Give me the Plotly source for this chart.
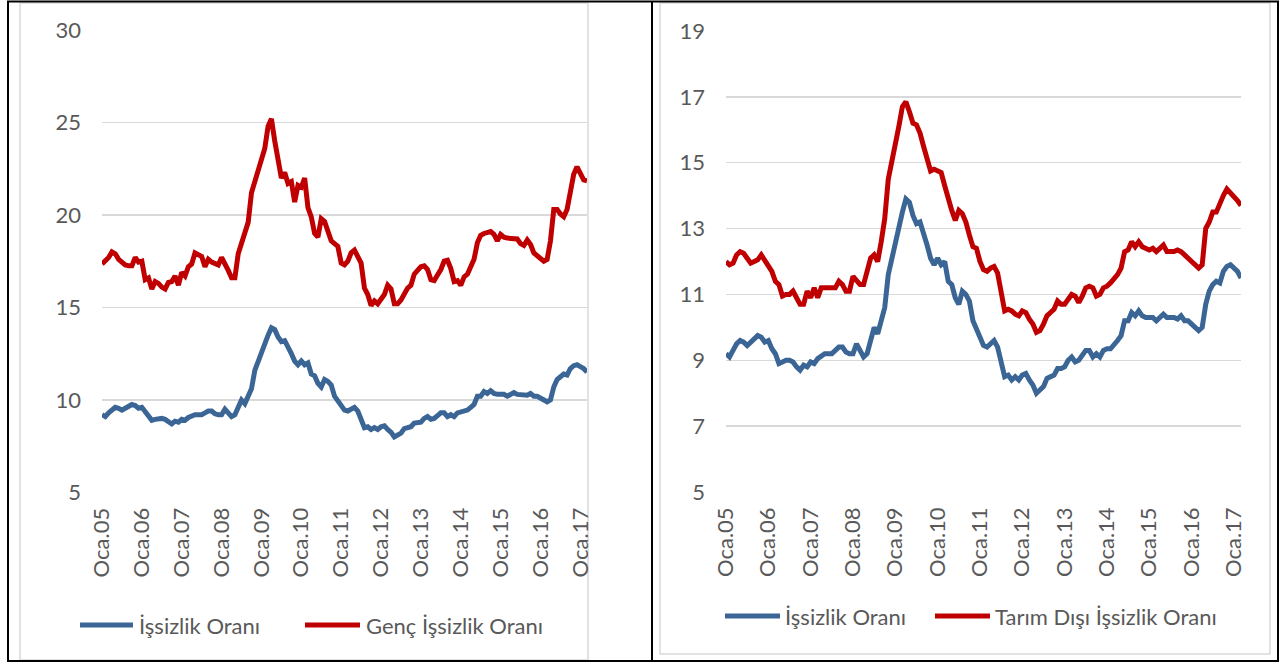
import plotly.graph_objects as go

# ---------------- data (monthly, Oca.05 .. Mar.17) ----------------
tick_labels = ["Oca.05", "Oca.06", "Oca.07", "Oca.08", "Oca.09", "Oca.10", "Oca.11",
               "Oca.12", "Oca.13", "Oca.14", "Oca.15", "Oca.16", "Oca.17"]

issizlik = [
    9.2, 9.1, 9.3, 9.5, 9.6, 9.55, 9.45, 9.55, 9.65, 9.75, 9.7, 9.55,
    9.6, 9.35, 9.2, 8.9, 8.95, 9.0, 9.0, 8.95, 8.8, 8.7, 8.85, 8.8,
    8.95, 8.9, 9.05, 9.15, 9.2, 9.2, 9.2, 9.3, 9.4, 9.4, 9.25, 9.2,
    9.2, 9.5, 9.3, 9.1, 9.2, 9.6, 10.0, 9.8, 10.2, 10.6, 11.6, 12.1,
    12.6, 13.1, 13.5, 13.9, 13.8, 13.4, 13.15, 13.2, 12.9, 12.5, 12.1, 11.9,
    12.1, 11.9, 12.0, 11.4, 11.3, 10.9, 10.7, 11.1, 11.0, 10.8, 10.2, 9.95,
    9.7, 9.45, 9.4, 9.5, 9.6, 9.4, 8.9, 8.5, 8.55, 8.4, 8.5, 8.4,
    8.55, 8.6, 8.4, 8.25, 8.0, 8.1, 8.2, 8.45, 8.5, 8.55, 8.75, 8.75,
    8.8, 9.0, 9.1, 8.95, 9.0, 9.15, 9.3, 9.3, 9.1, 9.2, 9.1, 9.3,
    9.35, 9.35, 9.45, 9.6, 9.75, 10.2, 10.2, 10.45, 10.35, 10.5, 10.35, 10.3,
    10.3, 10.3, 10.2, 10.3, 10.4, 10.3, 10.3, 10.3, 10.25, 10.35, 10.2, 10.2,
    10.1, 10.0, 9.9, 10.0, 10.7, 11.1, 11.3, 11.4, 11.35, 11.7, 11.85, 11.9,
    11.8, 11.7, 11.5,
]

genc_issizlik = [
    17.35, 17.5, 17.7, 18.0, 17.9, 17.6, 17.4, 17.3, 17.25, 17.25, 17.7, 17.45,
    17.5, 16.5, 16.6, 16.0, 16.4, 16.3, 16.1, 16.0, 16.35, 16.4, 16.7, 16.2,
    16.9, 16.7, 17.2, 17.35, 17.95, 17.85, 17.75, 17.2, 17.6, 17.45, 17.4, 17.3,
    17.7, 17.4, 17.0, 16.6, 16.6, 17.9, 18.4, 19.0, 19.6, 21.2, 21.8, 22.5,
    23.0, 23.6, 24.8, 25.2, 24.0, 22.8, 22.0, 22.3, 21.7, 21.8, 20.7, 21.6,
    21.5, 22.0, 20.4, 19.9, 19.0, 18.8, 19.8, 19.65, 19.2, 18.6, 18.45, 18.3,
    17.4, 17.3, 17.5, 17.95, 18.1, 17.8, 17.4, 16.05, 15.7, 15.1, 15.35, 15.2,
    15.4, 15.7, 16.2, 16.0, 15.2, 15.2, 15.4, 15.8, 16.05, 16.2, 16.8, 17.0,
    17.2, 17.25, 17.05, 16.5, 16.45, 16.75, 17.05, 17.5, 17.55, 17.1, 16.4, 16.45,
    16.2, 16.65, 16.8, 17.2, 17.6, 18.5, 18.9, 19.0, 19.05, 19.1, 18.95, 18.6,
    18.95, 18.8, 18.75, 18.75, 18.75, 18.7, 18.45, 18.35, 18.65, 18.4, 17.95, 17.8,
    17.7, 17.5, 17.6, 18.6, 20.3, 20.3, 20.05, 19.9, 20.3, 21.3, 22.2, 22.6,
    22.2, 21.9, 21.85,
]

tarim_disi = [
    12.0, 11.9, 11.95, 12.2, 12.3, 12.25, 12.1, 11.95, 12.0, 12.05, 12.2, 12.05,
    11.85, 11.7, 11.4, 11.3, 10.95, 11.0, 11.0, 11.1, 10.9, 10.7, 10.7, 11.1,
    10.9, 11.2, 10.9, 11.2, 11.2, 11.2, 11.2, 11.2, 11.4, 11.3, 11.1, 11.1,
    11.55, 11.45, 11.3, 11.3, 11.7, 12.1, 12.2, 12.0, 12.6, 13.3, 14.5, 15.0,
    15.6, 16.1, 16.7, 16.85, 16.55, 16.2, 16.15, 15.9, 15.5, 15.1, 14.75, 14.8,
    14.75, 14.7, 14.3, 13.9, 13.55, 13.25, 13.55, 13.45, 13.2, 12.8, 12.45, 12.4,
    12.0, 11.75, 11.7, 11.8, 11.85, 11.65, 11.1, 10.5, 10.55, 10.5, 10.4, 10.35,
    10.5, 10.45, 10.25, 10.1, 9.85, 9.9, 10.1, 10.35, 10.45, 10.55, 10.8, 10.7,
    10.7, 10.85, 11.0, 10.95, 10.75, 10.95, 11.2, 11.25, 11.2, 10.95, 11.0, 11.2,
    11.25, 11.35, 11.45, 11.6, 11.8, 12.3, 12.35, 12.6, 12.45, 12.6, 12.45, 12.4,
    12.35, 12.4, 12.3, 12.4, 12.5, 12.3, 12.3, 12.3, 12.35, 12.3, 12.2, 12.1,
    12.0, 11.9, 11.8, 11.9, 13.0, 13.2, 13.5, 13.5, 13.8, 14.0, 14.2, 14.1,
    13.95, 13.85, 13.7,
]

legend_left = ["İşsizlik Oranı", "Genç İşsizlik Oranı"]
legend_right = ["İşsizlik Oranı", "Tarım Dışı İşsizlik Oranı"]

# ---------------- styling ----------------
W, H = 1281, 664
BLUE = "#3A6595"
RED = "#C00000"
GRID = "#d9d9d9"
TXT = "#595959"
FONT = "Lato"
FS = 22

months = list(range(len(issizlik)))
tickvals = [12 * i for i in range(len(tick_labels))]


def px(x):
    return x / W


def py(y):
    return 1 - y / H


fig = go.Figure()
line_w = 5
fig.add_trace(go.Scatter(x=months, y=issizlik, mode="lines", line=dict(color=BLUE, width=line_w),
                         xaxis="x", yaxis="y", showlegend=False, name=legend_left[0]))
fig.add_trace(go.Scatter(x=months, y=genc_issizlik, mode="lines", line=dict(color=RED, width=line_w),
                         xaxis="x", yaxis="y", showlegend=False, name=legend_left[1]))
fig.add_trace(go.Scatter(x=months, y=issizlik, mode="lines", line=dict(color=BLUE, width=line_w),
                         xaxis="x2", yaxis="y2", showlegend=False, name=legend_right[0]))
fig.add_trace(go.Scatter(x=months, y=tarim_disi, mode="lines", line=dict(color=RED, width=line_w),
                         xaxis="x2", yaxis="y2", showlegend=False, name=legend_right[1]))

xcommon = dict(range=[0, len(months) - 1], tickvals=tickvals, ticktext=tick_labels, tickangle=-90,
               showgrid=False, zeroline=False, showline=False, ticks="",
               tickfont=dict(family=FONT, size=FS, color=TXT), ticklabelstandoff=10, automargin=False,
               fixedrange=True)
ycommon = dict(showgrid=True, gridcolor=GRID, gridwidth=1.5, zeroline=False, showline=False, ticks="",
               tickfont=dict(family=FONT, size=FS, color=TXT), ticklabelstandoff=20, automargin=False,
               fixedrange=True)

fig.update_layout(
    width=W, height=H,
    margin=dict(l=0, r=0, t=0, b=0),
    paper_bgcolor="white", plot_bgcolor="white",
    font=dict(family=FONT, size=FS, color=TXT),
    xaxis=dict(domain=[px(102), px(587)], anchor="y", **xcommon),
    yaxis=dict(domain=[py(492.4), py(30)], anchor="x", range=[5, 30], dtick=5, tick0=5, **ycommon),
    xaxis2=dict(domain=[px(726), px(1241)], anchor="y2", **xcommon),
    yaxis2=dict(domain=[py(492), py(31)], anchor="x2", range=[5, 19], dtick=2, tick0=5, **ycommon),
)

shapes = []
# light grey chart borders
for (x0, y0, x1, y1) in [(20, 3, 588, 660), (660, 3, 1270, 654)]:
    shapes.append(dict(type="rect", xref="paper", yref="paper", x0=px(x0), x1=px(x1), y0=py(y1), y1=py(y0),
                       line=dict(color=GRID, width=1.5), fillcolor="rgba(0,0,0,0)", layer="below"))
# black frame
shapes.append(dict(type="rect", xref="paper", yref="paper", x0=px(8), x1=px(1278), y0=py(661), y1=py(1.5),
                   line=dict(color="black", width=2), fillcolor="rgba(0,0,0,0)"))
shapes.append(dict(type="line", xref="paper", yref="paper", x0=px(652), x1=px(652), y0=py(661), y1=py(1.5),
                   line=dict(color="black", width=2)))

annotations = []
legend_items = [
    (80, 133, 625, BLUE, legend_left[0], 137),
    (305, 360, 625, RED, legend_left[1], 364),
    (725, 780, 616, BLUE, legend_right[0], 783),
    (935, 990, 616, RED, legend_right[1], 993),
]
for x0, x1, yy, col, label, tx in legend_items:
    shapes.append(dict(type="line", xref="paper", yref="paper", x0=px(x0), x1=px(x1), y0=py(yy), y1=py(yy),
                       line=dict(color=col, width=5)))
    annotations.append(dict(xref="paper", yref="paper", x=px(tx), y=py(yy), text=label, showarrow=False,
                            xanchor="left", yanchor="middle", font=dict(family=FONT, size=FS, color=TXT)))

fig.update_layout(shapes=shapes, annotations=annotations)

fig.write_html("out.html",
               config={"displayModeBar": False, "staticPlot": True},
               post_script="document.body.style.margin='0';document.body.style.overflow='hidden';")
